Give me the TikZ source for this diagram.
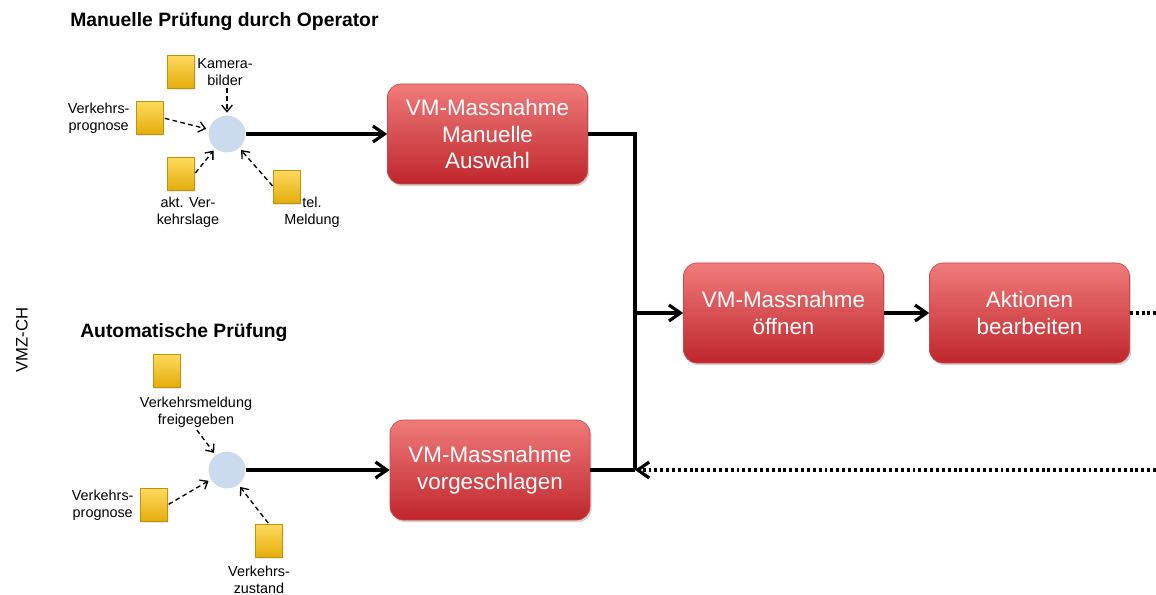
\documentclass[tikz,border=0pt]{standalone}
\usepackage{fontspec}
\setmainfont{Liberation Sans}
\usepackage{tikz}
\usetikzlibrary{arrows.meta,positioning,shapes.misc,shadows}
\definecolor{VmzRedTop}{HTML}{F07B7B}
\definecolor{VmzRedBot}{HTML}{BF262C}
\definecolor{VmzRedLine}{HTML}{C9484C}
\definecolor{VmzGoldTop}{HTML}{FFDA5E}
\definecolor{VmzGoldBot}{HTML}{E3AC0A}
\definecolor{VmzBlob}{HTML}{CCDAEE}
\tikzset{
  actbox/.style={draw=VmzRedLine,line width=0.5pt,rounded corners=10pt,top color=VmzRedTop,bottom color=VmzRedBot,minimum width=150pt,minimum height=75pt,align=center,text=white,font=\fontsize{16.8}{20}\selectfont,drop shadow={opacity=0.35,shadow xshift=1.2pt,shadow yshift=-1.6pt}},
  notecard/.style={chamfered rectangle,chamfered rectangle corners=south east,chamfered rectangle xsep=2.5pt,chamfered rectangle ysep=2.5pt,draw=VmzGoldBot!85!black,line width=0.3pt,top color=VmzGoldTop,bottom color=VmzGoldBot,minimum width=20pt,minimum height=25pt,inner sep=0pt,drop shadow={opacity=0.25,shadow xshift=0.8pt,shadow yshift=-0.8pt}},
  mergedot/.style={circle,fill=VmzBlob,minimum size=27.7pt,inner sep=0pt},
  notelabel/.style={align=center,font=\fontsize{10.8}{12.8}\selectfont,inner sep=1pt},
  grouptitle/.style={font=\bfseries\fontsize{14.5}{17}\selectfont,anchor=west,inner sep=0pt},
  mainflow/.style={-{Straight Barb[length=3mm,width=4.2mm]},line width=2.4pt,draw=black},
  feed/.style={-{Straight Barb[length=1.7mm,width=2.8mm]},line width=1pt,dash pattern=on 3.5pt off 2.5pt,shorten <=1pt,shorten >=2pt},
  busline/.style={line width=2.4pt},
  dotflow/.style={line width=2.4pt,dash pattern=on 2.2pt off 2.2pt}
}
\begin{document}
\begin{tikzpicture}[x=0.75pt,y=-0.75pt]
\useasboundingbox (0,0) rectangle (1156,595);
% headings
\node[grouptitle] (hm) at (70,22) {Manuelle Prüfung durch Operator};
\node[grouptitle] (ha) at (80,333) {Automatische Prüfung};
\node[font=\fontsize{12.5}{15}\selectfont,rotate=90] (vmz) at (22,340) {VMZ-CH};
% manual check inputs
\node[mergedot] (c1) at (227,134) {};
\node[notecard] (kn) at (181,72) {};
\node[notecard] (pn) at (150,118) {};
\node[notecard] (an) at (181,174) {};
\node[notecard] (tn) at (287,187) {};
\node[notelabel,right=1pt of kn] (kl) {Kamera-\\bilder};
\node[notelabel,left=4pt of pn] (pl) {Verkehrs-\\prognose};
\node[notelabel] (al) at (188,212) {akt. Ver-\\kehrslage};
\node[notelabel] (tl) at (312,212) {tel.\\Meldung};
% automatic check inputs
\node[mergedot] (c2) at (227,470) {};
\node[notecard] (mn) at (167,371) {};
\node[notecard] (qn) at (154,505) {};
\node[notecard] (zn) at (269,541) {};
\node[notelabel] (ml) at (196,412) {Verkehrsmeldung\\freigegeben};
\node[notelabel,left=4pt of qn] (ql) {Verkehrs-\\prognose};
\node[notelabel] (zl) at (259,580) {Verkehrs-\\zustand};
% measures
\node[actbox] (m1) at (487.5,134) {VM-Massnahme\\Manuelle\\Auswahl};
\node[actbox] (v1) at (490,470) {VM-Massnahme\\vorgeschlagen};
\node[actbox] (o1) at (783.5,313) {VM-Massnahme\\öffnen};
\node[actbox] (a1) at (1029.5,313) {Aktionen\\bearbeiten};
\coordinate (jb) at (635,470);
\coordinate (rend) at (1156,470);
% inputs to merge points
\draw[feed] (kl.south -| c1) -- (c1);
\draw[feed] (pn.east) -- (c1);
\draw[feed] (an.east) -- (c1);
\draw[feed] (tn.west) -- (c1);
\draw[feed] (ml.south) -- (c2);
\draw[feed] (qn.east) -- (c2);
\draw[feed] (zn.north) -- (c2);
% main flow
\draw[mainflow] (c1) -- (m1);
\draw[mainflow] (c2) -- (v1);
\draw[busline] (m1.east) -| (jb);
\draw[busline] (v1.east) -- (jb);
\draw[mainflow] (o1.west -| jb) -- (o1);
\draw[mainflow] (o1) -- (a1);
\draw[dotflow] (a1.east) -- (a1.east -| rend);
\draw[dotflow,-{Straight Barb[length=3mm,width=4.2mm]}] (rend) -- (jb);
\end{tikzpicture}
\end{document}
